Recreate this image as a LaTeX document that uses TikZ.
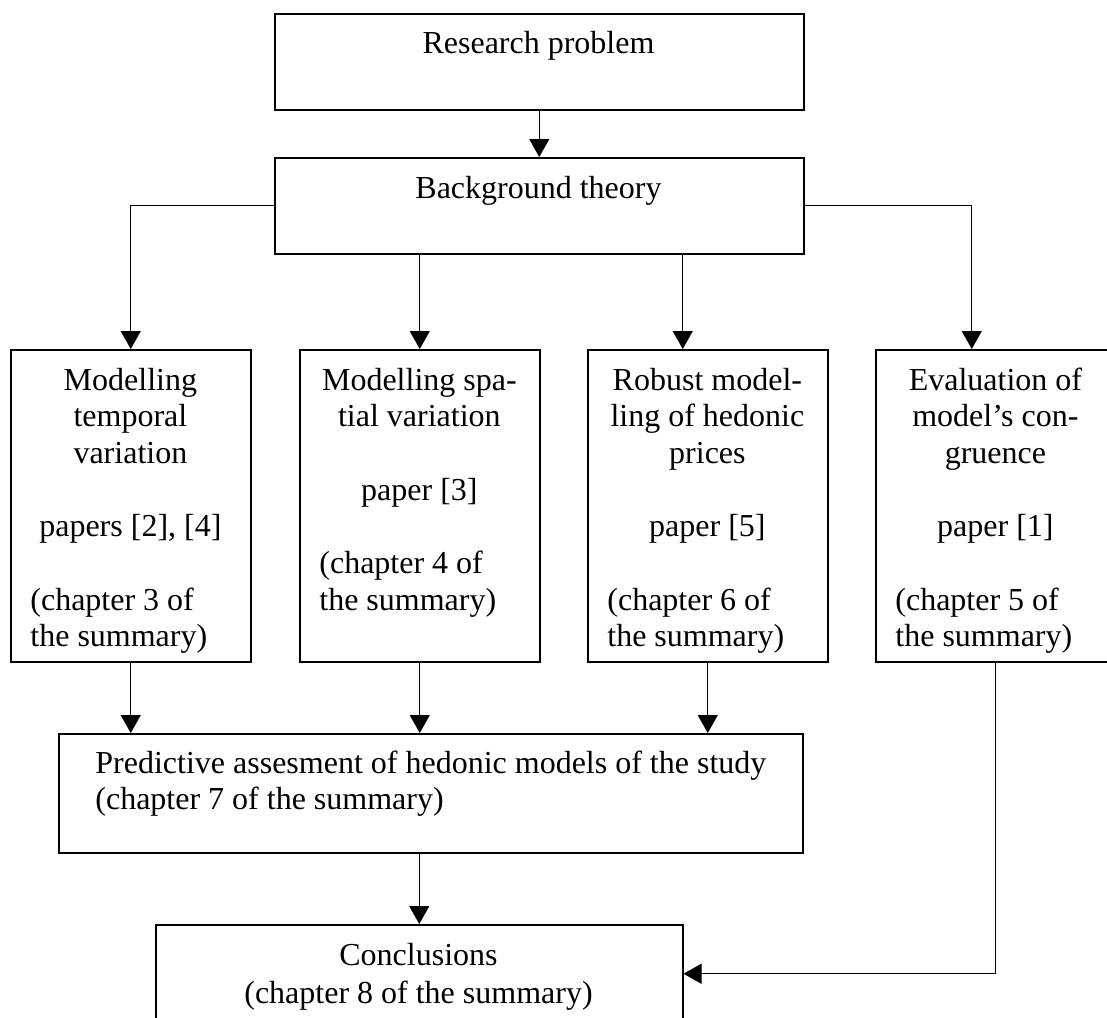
\documentclass[tikz,border=0pt]{standalone}
\usepackage{fontspec}
\setmainfont{Liberation Serif}
\usetikzlibrary{arrows.meta,calc}
\tikzset{
  box/.style={draw, line width=0.75pt, inner sep=0pt, anchor=north west},
  conn/.style={line width=0.5pt, -{Triangle[length=9pt,width=10pt]}},
  txt/.style={inner sep=0pt, anchor=base west, font=\fontsize{16}{18.35}\selectfont},
  ctxt/.style={inner sep=0pt, anchor=base, font=\fontsize{16}{19}\selectfont},
}
\begin{document}
\begin{tikzpicture}[x=0.5pt,y=-0.5pt]
\useasboundingbox (0,0) rectangle (1107,1017);
\clip (0,0) rectangle (1107,1017);
% boxes
\node[box, minimum width=264.5pt, minimum height=48pt]   (rp) at (274,13)  {};
\node[box, minimum width=264.5pt, minimum height=48pt]   (bt) at (274,157) {};
\node[box, minimum width=120pt, minimum height=156pt]    (m1) at (10,349)  {};
\node[box, minimum width=120pt, minimum height=156pt]    (m2) at (299,349) {};
\node[box, minimum width=120pt, minimum height=156pt]    (m3) at (587,349) {};
\node[box, minimum width=120pt, minimum height=156pt]    (m4) at (875,349) {};
\node[box, minimum width=372pt, minimum height=59.5pt]   (pa) at (58,733)  {};
\node[box, minimum width=263.5pt, minimum height=49pt]   (cc) at (155,924) {};
% texts
\node[ctxt] (rpt) at (538.5,53) {Research problem};
\node[ctxt] (btt) at (538.5,198) {Background theory};
\node[txt] (m1t) at (30,390) {\parbox[t]{100pt}{\centering Modelling\\temporal\\variation\\[18.35pt]papers [2], [4]\par\vspace{18.35pt}\raggedright (chapter 3 of\\the summary)}};
\node[txt] (m2t) at (319,390) {\parbox[t]{100pt}{\centering Modelling spa-\\tial variation\\[18.35pt]paper [3]\par\vspace{18.35pt}\raggedright (chapter 4 of\\the summary)}};
\node[txt] (m3t) at (607,390) {\parbox[t]{100pt}{\centering Robust model-\\ling of hedonic\\prices\\[18.35pt]paper [5]\par\vspace{18.35pt}\raggedright (chapter 6 of\\the summary)}};
\node[txt] (m4t) at (895,390) {\parbox[t]{100pt}{\centering Evaluation of\\model’s con-\\gruence\\[18.35pt]paper [1]\par\vspace{18.35pt}\raggedright (chapter 5 of\\the summary)}};
\node[txt] (pat) at (95,773) {\parbox[t]{360pt}{\raggedright Predictive assesment of hedonic models of the study\\(chapter 7 of the summary)}};
\node[ctxt] (cct) at (418.5,965) {\parbox[t]{250pt}{\centering Conclusions\\(chapter 8 of the summary)}};
% connectors
\draw[conn] (rp.south) -- (bt.north);
\draw[conn] (bt.west) -| (m1.north);
\draw[conn] (bt.east) -| ([xshift=-12pt]m4.north);
\draw[conn] (m2.north |- bt.south) -- (m2.north);
\draw[conn] ([xshift=-12.5pt]m3.north |- bt.south) -- ([xshift=-12.5pt]m3.north);
\draw[conn] (m1.south) -- (m1.south |- pa.north);
\draw[conn] (m2.south) -- (m2.south |- pa.north);
\draw[conn] (m3.south) -- (m3.south |- pa.north);
\draw[conn] (cc.north |- pa.south) -- (cc.north);
\draw[conn] (m4.south) |- (cc.east);
\end{tikzpicture}
\end{document}
